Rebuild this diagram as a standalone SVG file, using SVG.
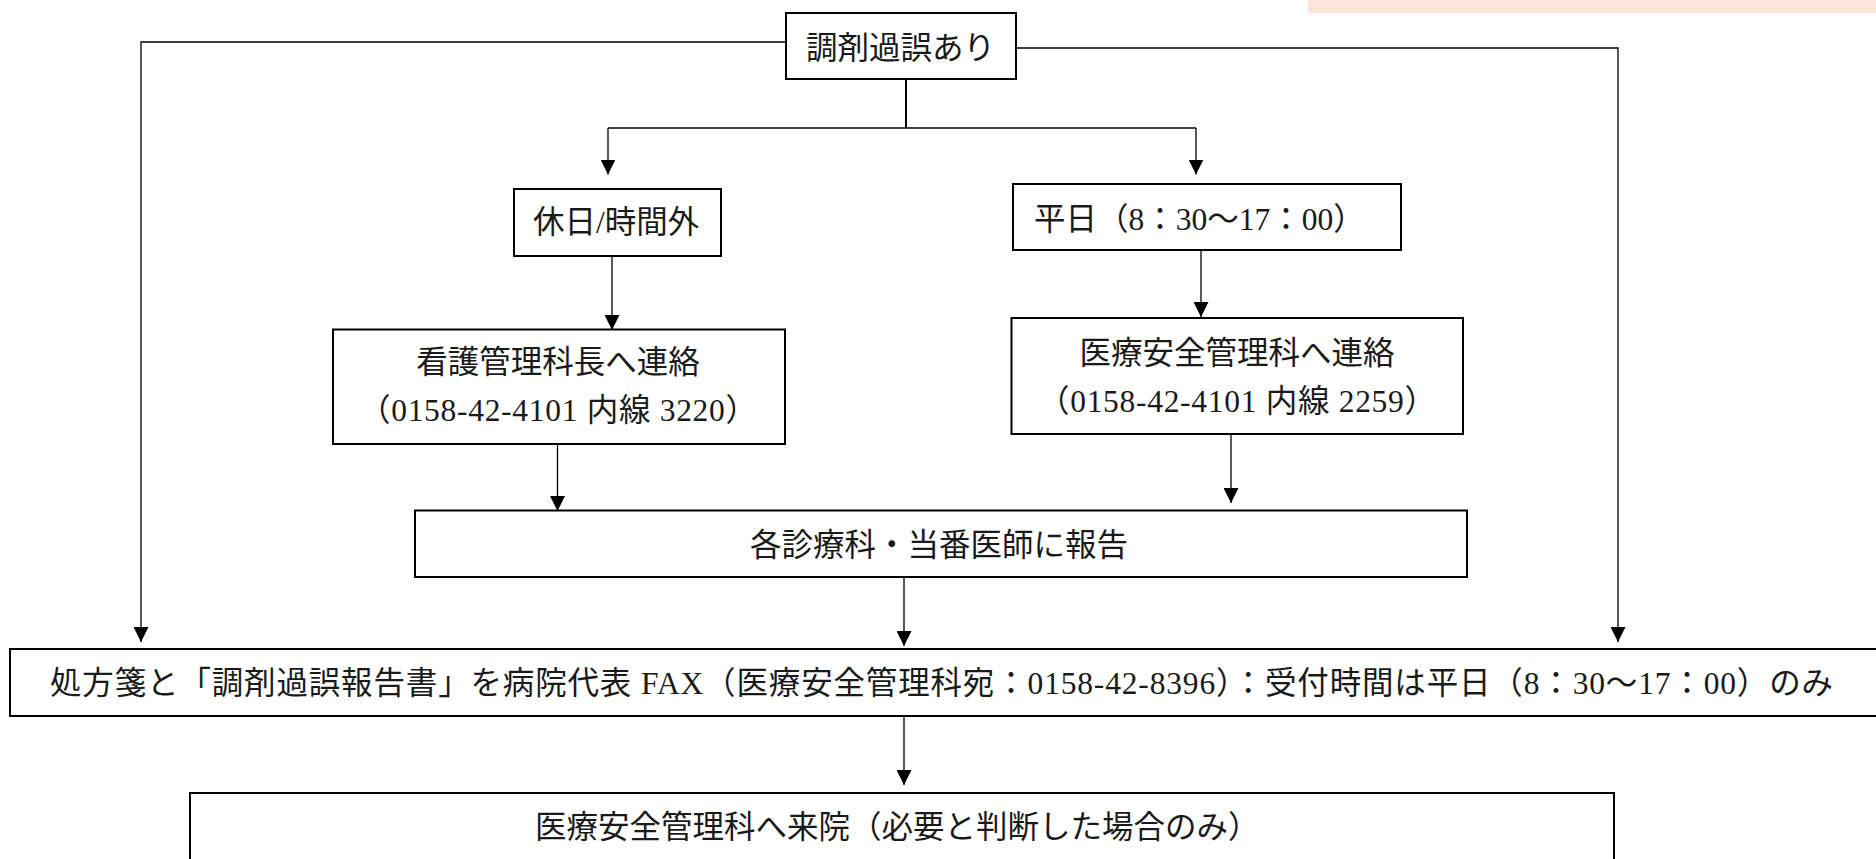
<svg xmlns="http://www.w3.org/2000/svg" width="1876" height="859" viewBox="0 0 1876 859">
  <defs>
    <marker id="arrow" markerUnits="userSpaceOnUse" markerWidth="15" markerHeight="15" refX="15" refY="7.5" orient="auto">
      <path d="M0,0 L15,7.5 L0,15 Z" fill="#000"/>
    </marker>
    <style>
      .box { fill: #fff; stroke: #000; stroke-width: 2; }
      .conn { fill: none; stroke: #000; stroke-width: 1.3; }
      .lbl { font-family: "Liberation Serif", "Noto Sans CJK JP", serif; font-size: 31.5px; fill: #1a1a1a; }
      .mid { text-anchor: middle; }
    </style>
  </defs>
  <rect x="0" y="0" width="1876" height="859" fill="#fff"/>
  <rect x="1308" y="0" width="568" height="13" fill="#FCE4D6"/>

  <g id="connectors">
    <path class="conn" d="M786,42 H141 V642" marker-end="url(#arrow)"/>
    <path class="conn" d="M1017,48 H1618 V642" marker-end="url(#arrow)"/>
    <path class="conn" d="M906,79 V128" style="stroke-width:2"/>
    <path class="conn" d="M608,128 H1196"/>
    <path class="conn" d="M608,128 V174.5" marker-end="url(#arrow)"/>
    <path class="conn" d="M1196,128 V174.5" marker-end="url(#arrow)"/>
    <path class="conn" d="M612,256 V330" marker-end="url(#arrow)"/>
    <path class="conn" d="M1201,250 V317" marker-end="url(#arrow)"/>
    <path class="conn" d="M557.5,444 V511" marker-end="url(#arrow)"/>
    <path class="conn" d="M1231,434 V503" marker-end="url(#arrow)"/>
    <path class="conn" d="M904,577 V646" marker-end="url(#arrow)"/>
    <path class="conn" d="M904,716 V785" marker-end="url(#arrow)"/>
  </g>

  <g id="node-error">
    <rect class="box" x="786" y="13" width="230" height="66"/>
    <text class="lbl" x="806" y="59">調剤過誤あり</text>
  </g>

  <g id="node-holiday">
    <rect class="box" x="514" y="189" width="207" height="67"/>
    <text class="lbl" x="533" y="233">休日/時間外</text>
  </g>

  <g id="node-weekday">
    <rect class="box" x="1013" y="184" width="388" height="66"/>
    <text class="lbl" x="1034" y="230">平日（8：30～17：00）</text>
  </g>

  <g id="node-nursing">
    <rect class="box" x="333" y="329.5" width="452" height="114.5"/>
    <text class="lbl mid" x="558" y="373">看護管理科長へ連絡</text>
    <text class="lbl mid" x="558" y="421" textLength="398" lengthAdjust="spacing">（0158-42-4101 内線 3220）</text>
  </g>

  <g id="node-safety">
    <rect class="box" x="1011.5" y="318" width="451.5" height="116"/>
    <text class="lbl mid" x="1237" y="364">医療安全管理科へ連絡</text>
    <text class="lbl mid" x="1237" y="412" textLength="398" lengthAdjust="spacing">（0158-42-4101 内線 2259）</text>
  </g>

  <g id="node-report">
    <rect class="box" x="415" y="510.5" width="1052" height="66.5"/>
    <text class="lbl" x="750" y="556">各診療科・当番医師に報告</text>
  </g>

  <g id="node-fax">
    <rect class="box" x="10" y="649" width="1880" height="67"/>
    <text class="lbl" x="50" y="694" textLength="1783" lengthAdjust="spacing">処方箋と「調剤過誤報告書」を病院代表 FAX（医療安全管理科宛：0158-42-8396）：受付時間は平日（8：30～17：00）のみ</text>
  </g>

  <g id="node-visit">
    <rect class="box" x="190" y="793" width="1424" height="100"/>
    <text class="lbl" x="535" y="838">医療安全管理科へ来院（必要と判断した場合のみ）</text>
  </g>
</svg>
